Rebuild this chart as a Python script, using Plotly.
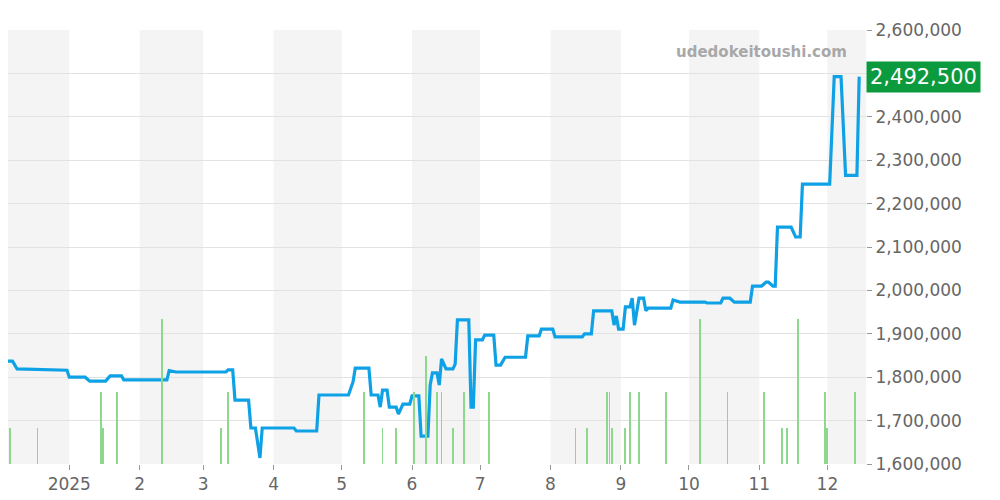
import plotly.graph_objects as go

# price history
price_dates = ["2024-12-02", "2024-12-07", "2024-12-09", "2024-12-19", "2024-12-31", "2025-01-01",
               "2025-01-08", "2025-01-10", "2025-01-17", "2025-01-19", "2025-01-24", "2025-01-25",
               "2025-02-13", "2025-02-14", "2025-02-17", "2025-03-11", "2025-03-12", "2025-03-14",
               "2025-03-15", "2025-03-21", "2025-03-22", "2025-03-24", "2025-03-26", "2025-03-27",
               "2025-04-10", "2025-04-11", "2025-04-20", "2025-04-21", "2025-05-04", "2025-05-06",
               "2025-05-07", "2025-05-13", "2025-05-14", "2025-05-17", "2025-05-18", "2025-05-19",
               "2025-05-21", "2025-05-22", "2025-05-25", "2025-05-26", "2025-05-28", "2025-05-31",
               "2025-06-01", "2025-06-04", "2025-06-05", "2025-06-08", "2025-06-09", "2025-06-10",
               "2025-06-12", "2025-06-13", "2025-06-14", "2025-06-16", "2025-06-19", "2025-06-20",
               "2025-06-21", "2025-06-26", "2025-06-27", "2025-06-28", "2025-06-29", "2025-07-02",
               "2025-07-03", "2025-07-07", "2025-07-08", "2025-07-10", "2025-07-12", "2025-07-21",
               "2025-07-22", "2025-07-27", "2025-07-28", "2025-08-02", "2025-08-03", "2025-08-15",
               "2025-08-16", "2025-08-19", "2025-08-20", "2025-08-28", "2025-08-29", "2025-08-30",
               "2025-08-31", "2025-09-02", "2025-09-03", "2025-09-05", "2025-09-06", "2025-09-07",
               "2025-09-09", "2025-09-11", "2025-09-12", "2025-09-13", "2025-09-23", "2025-09-24",
               "2025-09-27", "2025-10-08", "2025-10-09", "2025-10-15", "2025-10-16", "2025-10-19",
               "2025-10-21", "2025-10-28", "2025-10-29", "2025-11-02", "2025-11-04", "2025-11-05",
               "2025-11-07", "2025-11-08", "2025-11-09", "2025-11-15", "2025-11-17", "2025-11-19",
               "2025-11-20", "2025-12-02", "2025-12-04", "2025-12-07", "2025-12-09", "2025-12-14",
               "2025-12-15"]
price_values = [1837000, 1837000, 1819000, 1818000, 1816000, 1800000,
                1800000, 1791000, 1791000, 1803000, 1803000, 1794000,
                1794000, 1815000, 1812000, 1812000, 1817000, 1817000,
                1747000, 1747000, 1683000, 1683000, 1614000, 1683000,
                1683000, 1676000, 1676000, 1759000, 1759000, 1789000,
                1821000, 1821000, 1759000, 1759000, 1731000, 1770000,
                1770000, 1731000, 1731000, 1715000, 1738000, 1738000,
                1757000, 1757000, 1664000, 1664000, 1782000, 1810000,
                1810000, 1782000, 1842000, 1819000, 1819000, 1830000,
                1932000, 1932000, 1731000, 1731000, 1886000, 1886000,
                1897000, 1897000, 1828000, 1828000, 1846000, 1846000,
                1895000, 1895000, 1911000, 1911000, 1893000, 1893000,
                1900000, 1900000, 1953000, 1953000, 1920000, 1941000,
                1911000, 1911000, 1962000, 1962000, 1982000, 1920000,
                1982000, 1982000, 1953000, 1959000, 1959000, 1978000,
                1973000, 1973000, 1971000, 1971000, 1982000, 1982000,
                1973000, 1973000, 2010000, 2010000, 2019000, 2019000,
                2010000, 2010000, 2146000, 2146000, 2123000, 2123000,
                2245000, 2245000, 2492500, 2492500, 2265000, 2265000,
                2492500]

# trade volume bars
volume_dates = ["2024-12-06", "2024-12-18", "2025-01-15", "2025-01-16", "2025-01-22", "2025-02-11",
                "2025-03-09", "2025-03-12", "2025-05-11", "2025-05-19", "2025-05-25", "2025-06-02",
                "2025-06-07", "2025-06-12", "2025-06-14", "2025-06-19", "2025-06-24", "2025-07-05",
                "2025-08-12", "2025-08-17", "2025-08-26", "2025-08-27", "2025-08-28", "2025-09-03",
                "2025-09-05", "2025-09-09", "2025-09-21", "2025-10-06", "2025-10-18", "2025-11-03",
                "2025-11-11", "2025-11-13", "2025-11-18", "2025-11-30", "2025-12-01", "2025-12-13"]
volume_values = [1, 1, 2, 1, 2, 4,
                 1, 2, 2, 1, 1, 2,
                 3, 2, 2, 1, 2, 2,
                 1, 1, 2, 2, 1, 1,
                 2, 2, 2, 4, 2, 2,
                 1, 1, 4, 2, 1, 2]

shaded_months = [("2024-12-01", "2025-01-01"), ("2025-02-01", "2025-03-01"), ("2025-04-01", "2025-05-01"),
                 ("2025-06-01", "2025-07-01"), ("2025-08-01", "2025-09-01"), ("2025-10-01", "2025-11-01"),
                 ("2025-12-01", "2026-01-01")]
tick_vals = ["2025-01-01", "2025-02-01", "2025-03-01", "2025-04-01", "2025-05-01", "2025-06-01",
             "2025-07-01", "2025-08-01", "2025-09-01", "2025-10-01", "2025-11-01", "2025-12-01"]
tick_text = ["2025", "2", "3", "4", "5", "6", "7", "8", "9", "10", "11", "12"]
y_ticks = [1600000, 1700000, 1800000, 1900000, 2000000, 2100000, 2200000, 2300000, 2400000, 2500000, 2600000]

fig = go.Figure()

fig.add_trace(go.Bar(
    x=volume_dates, y=volume_values, yaxis="y2",
    marker_color="#8ed88e", marker_line_width=0, width=35e6,
    hoverinfo="skip"
))

fig.add_trace(go.Scatter(
    x=price_dates, y=price_values, mode="lines",
    line=dict(color="#0ea1e6", width=3.2)
))

for start, end in shaded_months:
    fig.add_vrect(x0=start, x1=end, fillcolor="#f4f4f4", line_width=0, layer="below")

fig.add_annotation(
    x=1.0, xref="paper", xanchor="left", y=price_values[-1], yref="y",
    text=f"{price_values[-1]:,}", showarrow=False,
    font=dict(color="white", size=21, family="DejaVu Sans"),
    bgcolor="#0c9a3e", borderpad=3, xshift=0
)
fig.add_annotation(
    x=0.98, xref="paper", xanchor="right", y=0.95, yref="paper", yanchor="middle",
    text="<b>udedokeitoushi.com</b>", showarrow=False,
    font=dict(color="#a8a8a8", size=15, family="DejaVu Sans")
)

fig.update_layout(
    width=992, height=492,
    margin=dict(l=0, r=134, t=22, b=36),
    plot_bgcolor="white", paper_bgcolor="white",
    showlegend=False, bargap=0,
    font=dict(family="DejaVu Sans", color="#666"),
    xaxis=dict(range=["2024-12-05", "2025-12-18"], tickvals=tick_vals, ticktext=tick_text,
               showgrid=False, ticks="outside", ticklen=5, tickcolor="#999",
               tickfont=dict(size=17), zeroline=False, automargin=False),
    yaxis=dict(side="right", range=[1600000, 2600000], tickvals=y_ticks,
               tickformat=",d", gridcolor="#e2e2e2", tickfont=dict(size=17),
               ticks="outside", ticklen=5, tickcolor="#999", zeroline=False, automargin=False),
    yaxis2=dict(overlaying="y", range=[0, 12], visible=False),
)

fig.write_html("out.html")
